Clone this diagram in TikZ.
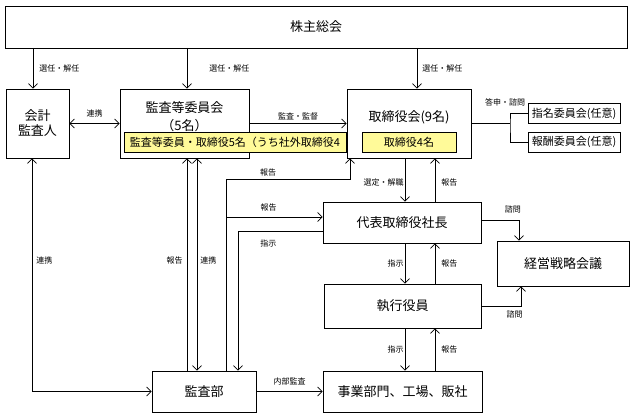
\documentclass[tikz,border=0pt]{standalone}
\usepackage{fontspec}
\setmainfont{Noto Sans CJK JP}
\usetikzlibrary{arrows.meta}

\begin{document}
\begin{tikzpicture}[x=1pt,y=-1pt,
        box/.style={draw,line width=0.8pt,inner sep=0pt,align=center,font=\fontsize{13}{15}\selectfont},
        small/.style={box,font=\fontsize{11}{13}\selectfont},
        memo/.style={draw,line width=0.6pt,fill=yellow!40,inner sep=0pt,font=\fontsize{11}{13}\selectfont},
        lbl/.style={inner sep=0pt,font=\fontsize{8}{9}\selectfont},
        link/.style={line width=0.75pt},
        arr/.style={link,-{Straight Barb[length=4.5pt,width=9pt]}},
        arrs/.style={link,{Straight Barb[length=4.5pt,width=9pt]}-{Straight Barb[length=4.5pt,width=9pt]}}]
        \fill[white] (0,0) rectangle (633,420);

        \node[box,minimum width=622pt,minimum height=42pt] (soukai) at (316,27) {株主総会};
        \node[box,minimum width=63pt,minimum height=69pt] (kaikei) at (37.5,123.5) {会計\\監査人};
        \node[box,minimum width=129pt,minimum height=69pt] (iinkai) at (184.5,123.5) {};
        \node[box,minimum width=124pt,minimum height=69pt] (torishimari) at (409,123.5) {};
        \node[box,font=\fontsize{13}{18}\selectfont] (iinkaitxt) at (184.5,117) [draw=none] {監査等委員会\\（5名）};
        \node[box,draw=none] (torishimaritxt) at (409,117) {取締役会(9名)};
        \node[memo,minimum width=222pt,minimum height=20pt] (iinmemo) at (235,142.5) {監査等委員・取締役5名（うち社外取締役4};
        \node[memo,minimum width=94pt,minimum height=20pt] (torimemo) at (409,142.5) {取締役4名};
        \node[small,minimum width=92pt,minimum height=20pt] (shimei) at (574,113.5) {指名委員会(任意)};
        \node[small,minimum width=92pt,minimum height=20pt] (houshu) at (574,142) {報酬委員会(任意)};
        \node[box,minimum width=158pt,minimum height=41pt] (shacho) at (402,222.5) {代表取締役社長};
        \node[box,minimum width=157pt,minimum height=44pt] (shikkou) at (402.5,306) {執行役員};
        \node[box,minimum width=159pt,minimum height=41pt] (jigyou) at (402.5,391.5) {事業部門、工場、販社};
        \node[box,minimum width=132pt,minimum height=45pt] (senryaku) at (563,263.5) {経営戦略会議};
        \node[box,minimum width=104pt,minimum height=41pt] (kansabu) at (204,391.5) {監査部};

        \coordinate (s1) at (33,48);
        \coordinate (s2) at (187,48);
        \coordinate (s3) at (417,48);
        \coordinate (xk) at (32,0);
        \coordinate (xa) at (187,0);
        \coordinate (xb) at (197,0);
        \coordinate (xc) at (226,0);
        \coordinate (xd) at (238,0);
        \coordinate (xe) at (350,0);
        \coordinate (xf) at (405,0);
        \coordinate (xg) at (435,0);
        \coordinate (xh) at (510,0);
        \coordinate (xi) at (519,0);
        \coordinate (xj) at (521,0);
        \coordinate (yr) at (0,179);
        \coordinate (ys) at (0,217);
        \coordinate (yt) at (0,231);

        \draw[arr] (s1) -- (s1 |- kaikei.north) node[lbl,midway,right=6pt] {選任・解任};
        \draw[arr] (s2) -- (s2 |- iinkai.north) node[lbl,midway,right=22pt] {選任・解任};
        \draw[arr] (s3) -- (s3 |- torishimari.north) node[lbl,midway,right=5pt] {選任・解任};

        \draw[arrs] (kaikei.east) -- node[lbl,above=6pt] {連携} (iinkai.west);
        \draw[arr] (iinkai.east) -- node[lbl,above=3pt] {監査・監督} (torishimari.west);

        \draw[link] (torishimari.east) -- (xh |- torishimari.east);
        \draw[link] (shimei.west) -| node[lbl,pos=0.5,above=7pt,xshift=-5pt] {答申・諮問} (xh |- torishimari.east) |- (houshu.west);

        \draw[arr] (xf |- torishimari.south) -- node[lbl,left=1pt,yshift=-2pt] {選定・解職} (xf |- shacho.north);
        \draw[arr] (xg |- shacho.north) -- node[lbl,right=6pt,yshift=-2pt] {報告} (xg |- torishimari.south);
        \draw[arr] (xf |- shacho.south) -- node[lbl,left=1pt] {指示} (xf |- shikkou.north);
        \draw[arr] (xg |- shikkou.north) -- node[lbl,right=6pt] {報告} (xg |- shacho.south);
        \draw[arr] (xf |- shikkou.south) -- node[lbl,left=1pt] {指示} (xf |- jigyou.north);
        \draw[arr] (xg |- jigyou.north) -- node[lbl,right=6pt] {報告} (xg |- shikkou.south);

        \draw[arr] ([yshift=2.5pt]shacho.east) -| node[lbl,pos=0.42,above=6pt] {諮問} (xi |- senryaku.north);
        \draw[arr] (shikkou.east) -| node[lbl,pos=0.42,below=4pt] {諮問} (xj |- senryaku.south);

        \draw[arrs] (xk |- kaikei.south) |- node[lbl,pos=0.22,right=4pt] {連携} (kansabu.west);
        \draw[arr] (xa |- kansabu.north) -- node[lbl,pos=0.52,left=4pt] {報告} (xa |- iinkai.south);
        \draw[arrs] (xb |- kansabu.north) -- node[lbl,pos=0.52,right=3pt] {連携} (xb |- iinkai.south);
        \draw[arr] (xc |- kansabu.north) -- (xc |- yr) -| node[lbl,pos=0.17,above=2pt] {報告} (xe |- torishimari.south);
        \draw[arr] (xc |- ys) -- node[lbl,pos=0.44,above=5pt] {報告} (shacho.west |- ys);
        \draw[arr] (shacho.west |- yt) -| node[lbl,pos=0.32,below=8pt] {指示} (xd |- kansabu.north);
        \draw[arr] (kansabu.east) -- node[lbl,above=5.5pt] {内部監査} (jigyou.west);
\end{tikzpicture}
\end{document}
